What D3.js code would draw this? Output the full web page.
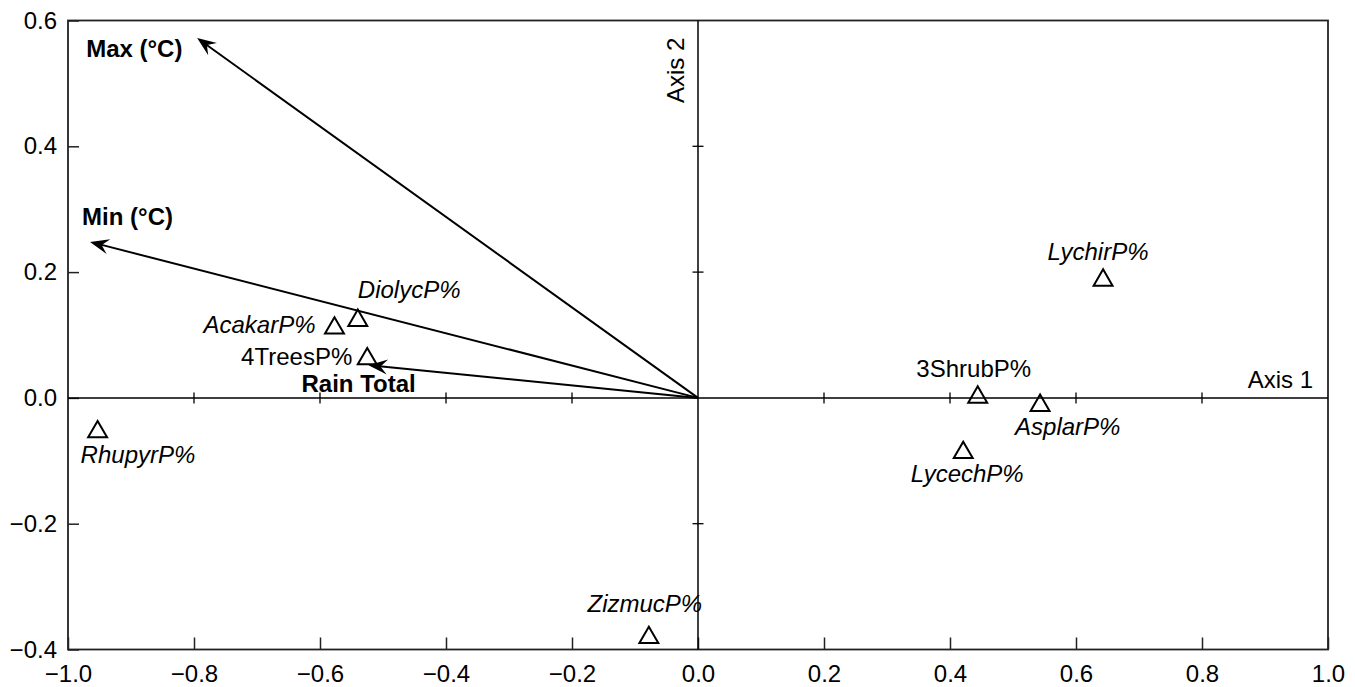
<!DOCTYPE html>
<html>
<head>
<meta charset="utf-8">
<script src="https://cdn.jsdelivr.net/npm/d3@7"></script>
<style>
  html, body { margin: 0; padding: 0; background: #fff; }
  svg { display: block; font-family: "Liberation Sans", Arial, Helvetica, sans-serif; }
</style>
</head>
<body>
<svg id="chart" width="1355" height="687"></svg>
<script>
// ---- data ----
const xTicks = [-1.0, -0.8, -0.6, -0.4, -0.2, 0.0, 0.2, 0.4, 0.6, 0.8, 1.0];
const yTicks = [-0.4, -0.2, 0.0, 0.2, 0.4, 0.6];

const speciesNames = ["DiolycP%", "AcakarP%", "4TreesP%", "3ShrubP%", "AsplarP%", "LycechP%", "LychirP%", "RhupyrP%", "ZizmucP%"];
const speciesX     = [-0.540, -0.577, -0.525, 0.444, 0.543, 0.421, 0.643, -0.953, -0.078];
const speciesY     = [ 0.123,  0.111,  0.062, 0.001, -0.012, -0.087, 0.187, -0.054, -0.381];
const speciesItalic = [true, true, false, false, true, true, true, true, true];

const vectorNames = ["Max (°C)", "Min (°C)", "Rain Total"];
const vectorX     = [-0.795, -0.965, -0.523];
const vectorY     = [ 0.572,  0.248,  0.052];

// ---- layout (label placement offsets in px) ----
const speciesLabelPos = {
  "DiolycP%": {dx: 0, dy: -23, anchor: "start"},
  "AcakarP%": {dx: -19, dy: 5, anchor: "end"},
  "4TreesP%": {dx: -15, dy: 6, anchor: "end"},
  "3ShrubP%": {dx: -4, dy: -20, anchor: "middle"},
  "AsplarP%": {dx: -25, dy: 30, anchor: "start"},
  "LycechP%": {dx: 4, dy: 29, anchor: "middle"},
  "LychirP%": {dx: -5, dy: -20, anchor: "middle"},
  "RhupyrP%": {dx: -17, dy: 31, anchor: "start"},
  "ZizmucP%": {dx: -4, dy: -26, anchor: "middle"}
};
const vectorLabelPos = {
  "Max (°C)": {dx: -111, dy: 19},
  "Min (°C)": {dx: -8, dy: -17},
  "Rain Total": {dx: -67, dy: 27}
};

const L = 68, R = 1328, T = 20.5, B = 649.5;
const FS = 24;

const svg = d3.select("#chart");
const x = d3.scaleLinear().domain([-1, 1]).range([L, R]);
const y = d3.scaleLinear().domain([-0.4, 0.6]).range([B, T]);

const fmt = v => (v < 0 ? "\u2212" : "") + Math.abs(v).toFixed(1);

// frame
svg.append("rect").attr("x", L).attr("y", T).attr("width", R - L).attr("height", B - T)
  .attr("fill", "none").attr("stroke", "#222").attr("stroke-width", 1.8);

// bottom axis (ticks inward)
const xAxis = d3.axisBottom(x).tickValues(xTicks).tickFormat(fmt).tickSizeInner(-12).tickSizeOuter(0).tickPadding(15);
const gx = svg.append("g").attr("transform", `translate(0,${B})`).call(xAxis);
gx.select(".domain").remove();
gx.selectAll(".tick line").attr("stroke", "#222").attr("stroke-width", 1.5);
gx.selectAll(".tick text").attr("font-size", FS).attr("fill", "#000").attr("font-family", "Liberation Sans, Arial, sans-serif");

// left axis (ticks inward)
const yAxis = d3.axisLeft(y).tickValues(yTicks).tickFormat(fmt).tickSizeInner(-11).tickSizeOuter(0).tickPadding(11);
const gy = svg.append("g").attr("transform", `translate(${L},0)`).call(yAxis);
gy.select(".domain").remove();
gy.selectAll(".tick line").attr("stroke", "#222").attr("stroke-width", 1.5);
gy.selectAll(".tick text").attr("font-size", FS).attr("fill", "#000").attr("font-family", "Liberation Sans, Arial, sans-serif");

// zero axes
svg.append("line").attr("x1", L).attr("x2", R).attr("y1", y(0)).attr("y2", y(0))
  .attr("stroke", "#000").attr("stroke-width", 1.5);
svg.append("line").attr("x1", x(0)).attr("x2", x(0)).attr("y1", T).attr("y2", B)
  .attr("stroke", "#000").attr("stroke-width", 1.5);

// crossing ticks on zero axes
svg.append("g").selectAll("line").data(xTicks.filter(v => v !== 0 && Math.abs(v) < 1)).join("line")
  .attr("x1", d => x(d)).attr("x2", d => x(d)).attr("y1", y(0) - 5.5).attr("y2", y(0) + 5.5)
  .attr("stroke", "#000").attr("stroke-width", 1.3);
svg.append("g").selectAll("line").data(yTicks.filter(v => v !== 0 && v > -0.4 && v < 0.6)).join("line")
  .attr("y1", d => y(d)).attr("y2", d => y(d)).attr("x1", x(0) - 5.5).attr("x2", x(0) + 5.5)
  .attr("stroke", "#000").attr("stroke-width", 1.3);

// axis names
svg.append("text").attr("x", 1313).attr("y", 388).attr("text-anchor", "end")
  .attr("font-size", FS).text("Axis 1");
svg.append("text").attr("transform", `translate(${x(0) - 14},103) rotate(-90)`)
  .attr("text-anchor", "start").attr("font-size", FS).text("Axis 2");

// arrows
const headLen = 19, headW = 7.5, notch = 12;
const vectors = vectorNames.map((n, i) => ({name: n, vx: vectorX[i], vy: vectorY[i]}));
const gv = svg.append("g");
vectors.forEach(v => {
  const x0 = x(0), y0 = y(0), x1 = x(v.vx), y1 = y(v.vy);
  const ang = Math.atan2(y1 - y0, x1 - x0);
  const ux = Math.cos(ang), uy = Math.sin(ang);
  const px = -uy, py = ux;
  gv.append("line").attr("x1", x0).attr("y1", y0)
    .attr("x2", x1 - ux * (notch - 1)).attr("y2", y1 - uy * (notch - 1))
    .attr("stroke", "#000").attr("stroke-width", 2);
  const bx = x1 - ux * headLen, by = y1 - uy * headLen;
  const nx = x1 - ux * notch, ny = y1 - uy * notch;
  gv.append("path")
    .attr("d", `M${x1},${y1}L${bx + px * headW},${by + py * headW}L${nx},${ny}L${bx - px * headW},${by - py * headW}Z`)
    .attr("fill", "#000");
  const lp = vectorLabelPos[v.name];
  gv.append("text").attr("x", x1 + lp.dx).attr("y", y1 + lp.dy)
    .attr("font-size", FS).attr("font-weight", "bold").text(v.name);
});

// species triangles
const tri = d3.symbol().type(d3.symbolTriangle).size(155);
const species = speciesNames.map((n, i) => ({name: n, sx: speciesX[i], sy: speciesY[i], it: speciesItalic[i]}));
const gs = svg.append("g");
gs.selectAll("path").data(species).join("path")
  .attr("d", tri)
  .attr("transform", d => `translate(${x(d.sx)},${y(d.sy)})`)
  .attr("fill", "none").attr("stroke", "#000").attr("stroke-width", 2);
gs.selectAll("text").data(species).join("text")
  .attr("x", d => x(d.sx) + speciesLabelPos[d.name].dx)
  .attr("y", d => y(d.sy) + speciesLabelPos[d.name].dy)
  .attr("text-anchor", d => speciesLabelPos[d.name].anchor)
  .attr("font-size", FS)
  .attr("font-style", d => d.it ? "italic" : "normal")
  .text(d => d.name);
</script>
</body>
</html>
